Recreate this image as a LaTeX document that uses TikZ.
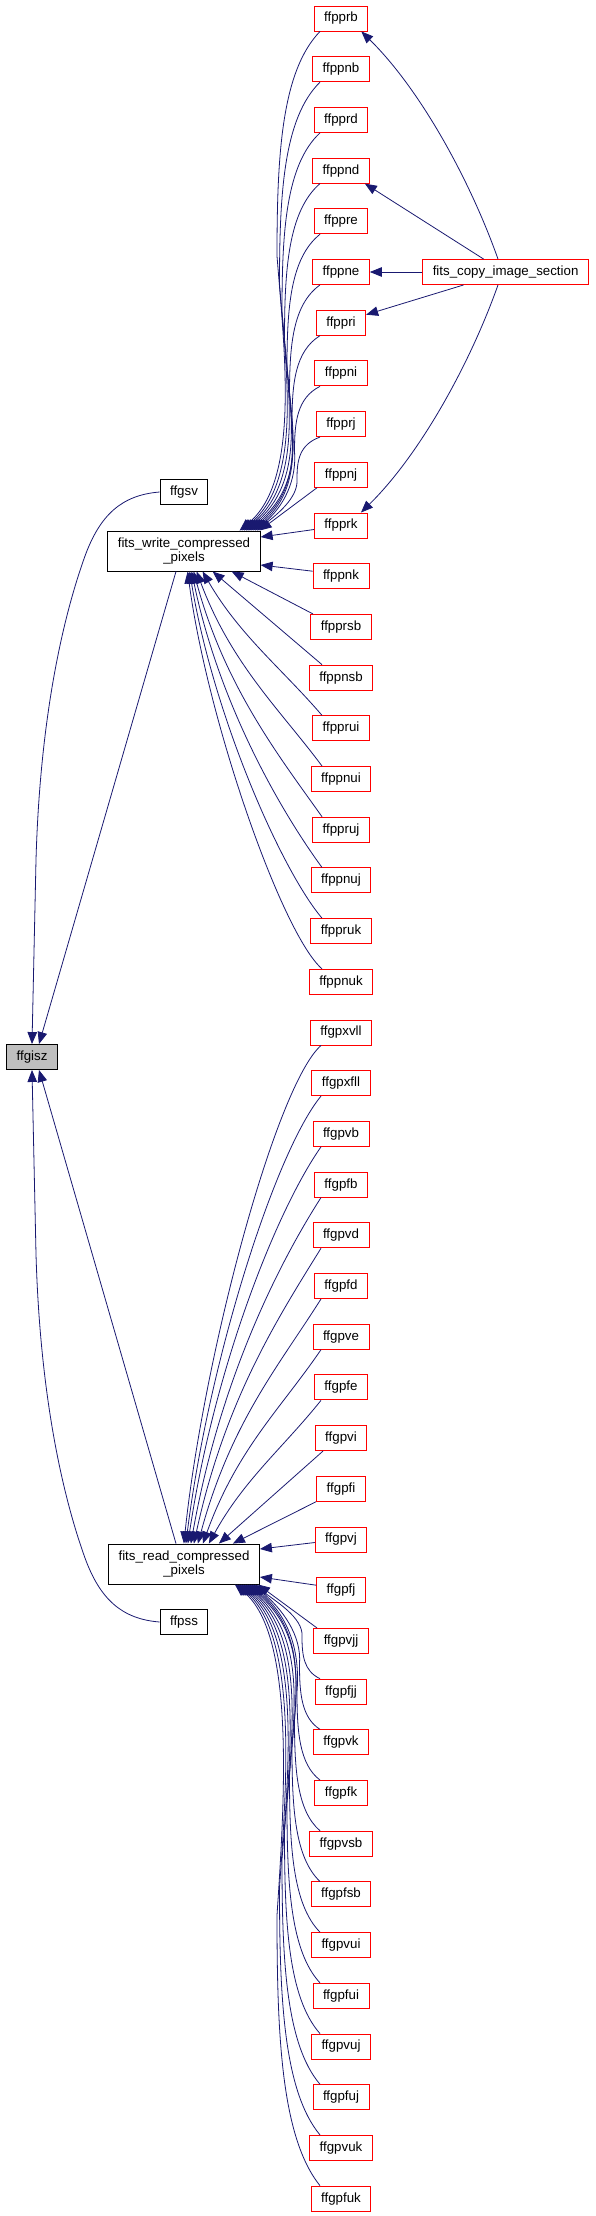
\documentclass[tikz,border=0pt]{standalone}
\usepackage{fontspec}
\setmainfont{Liberation Sans}
\usepackage{tikz}
\usetikzlibrary{arrows.meta}
\definecolor{edgeblue}{RGB}{25,25,112}
\definecolor{boxgray}{RGB}{191,191,191}
\definecolor{boxred}{RGB}{255,0,0}

\begin{document}
\begin{tikzpicture}[
    x=1pt, y=-1pt,
    func/.style={rectangle, draw=black, fill=white, line width=0.9pt, align=center, inner xsep=10pt, inner ysep=2pt, minimum height=25pt, font=\fontsize{13.3pt}{13.6pt}\selectfont},
    callee/.style={func, draw=boxred},
    focus/.style={func, fill=boxgray},
    arrow/.style={-{Triangle[length=12pt, width=9.5pt]}, draw=edgeblue, line width=0.8pt}
]
\useasboundingbox (0,0) rectangle (596,2216);

% left part
\node[focus] (ffgisz) at (32,1057) {ffgisz};
\node[func] (ffgsv) at (184,492) {ffgsv};
\node[func, minimum height=40pt] (writecomp) at (184,551) {fits\_write\_compressed\\\_pixels};
\node[func, minimum height=40pt] (readcomp) at (184,1564) {fits\_read\_compressed\\\_pixels};
\node[func] (ffpss) at (184,1622) {ffpss};
\node[callee] (copysec) at (505.6,272) {fits\_copy\_image\_section};

% write routines
\node[callee] (ffpprb) at (341,18.5) {ffpprb};
\node[callee] (ffppnb) at (341,69.2) {ffppnb};
\node[callee] (ffpprd) at (341,119.9) {ffpprd};
\node[callee] (ffppnd) at (341,170.6) {ffppnd};
\node[callee] (ffppre) at (341,221.3) {ffppre};
\node[callee] (ffppne) at (341,272.0) {ffppne};
\node[callee] (ffppri) at (341,322.7) {ffppri};
\node[callee] (ffppni) at (341,373.4) {ffppni};
\node[callee] (ffpprj) at (341,424.1) {ffpprj};
\node[callee] (ffppnj) at (341,474.8) {ffppnj};
\node[callee] (ffpprk) at (341,525.5) {ffpprk};
\node[callee] (ffppnk) at (341,576.2) {ffppnk};
\node[callee] (ffpprsb) at (341,626.9) {ffpprsb};
\node[callee] (ffppnsb) at (341,677.6) {ffppnsb};
\node[callee] (ffpprui) at (341,728.3) {ffpprui};
\node[callee] (ffppnui) at (341,779.0) {ffppnui};
\node[callee] (ffppruj) at (341,829.7) {ffppruj};
\node[callee] (ffppnuj) at (341,880.4) {ffppnuj};
\node[callee] (ffppruk) at (341,931.1) {ffppruk};
\node[callee] (ffppnuk) at (341,981.8) {ffppnuk};

% read routines
\node[callee] (ffgpxvll) at (341,1032.5) {ffgpxvll};
\node[callee] (ffgpxfll) at (341,1083.2) {ffgpxfll};
\node[callee] (ffgpvb) at (341,1133.9) {ffgpvb};
\node[callee] (ffgpfb) at (341,1184.6) {ffgpfb};
\node[callee] (ffgpvd) at (341,1235.3) {ffgpvd};
\node[callee] (ffgpfd) at (341,1286.0) {ffgpfd};
\node[callee] (ffgpve) at (341,1336.7) {ffgpve};
\node[callee] (ffgpfe) at (341,1387.4) {ffgpfe};
\node[callee] (ffgpvi) at (341,1438.1) {ffgpvi};
\node[callee] (ffgpfi) at (341,1488.8) {ffgpfi};
\node[callee] (ffgpvj) at (341,1539.5) {ffgpvj};
\node[callee] (ffgpfj) at (341,1590.2) {ffgpfj};
\node[callee] (ffgpvjj) at (341,1640.9) {ffgpvjj};
\node[callee] (ffgpfjj) at (341,1691.6) {ffgpfjj};
\node[callee] (ffgpvk) at (341,1742.3) {ffgpvk};
\node[callee] (ffgpfk) at (341,1793.0) {ffgpfk};
\node[callee] (ffgpvsb) at (341,1843.7) {ffgpvsb};
\node[callee] (ffgpfsb) at (341,1894.4) {ffgpfsb};
\node[callee] (ffgpvui) at (341,1945.1) {ffgpvui};
\node[callee] (ffgpfui) at (341,1995.8) {ffgpfui};
\node[callee] (ffgpvuj) at (341,2046.5) {ffgpvuj};
\node[callee] (ffgpfuj) at (341,2097.2) {ffgpfuj};
\node[callee] (ffgpvuk) at (341,2147.9) {ffgpvuk};
\node[callee] (ffgpfuk) at (341,2198.6) {ffgpfuk};

% callers of ffgisz
\draw[arrow] (ffgsv.west) .. controls +(-38,3) and +(15,-41) .. (85,556) .. controls +(-23,64) and +(4,-140) .. (36,860) -- (ffgisz.north);
\draw[arrow] ([xshift=-8pt]writecomp.south) -- ([xshift=7pt]ffgisz.north);
\draw[arrow] ([xshift=-8pt]readcomp.north) -- ([xshift=7pt]ffgisz.south);
\draw[arrow] (ffpss.west) .. controls +(-38,-3) and +(15,41) .. (85,1558) .. controls +(-23,-64) and +(4,140) .. (36,1254) -- (ffgisz.south);

% fits_copy_image_section
\draw[arrow] ([xshift=-7.6pt]copysec.north) .. controls +(-28,-79) and +(59,58) .. ([xshift=-7pt]ffpprb.south east);
\draw[arrow] ([xshift=-22pt]copysec.north) -- ([xshift=-5pt]ffppnd.south east);
\draw[arrow] (copysec.west) -- (ffppne.east);
\draw[arrow] ([xshift=-42pt]copysec.south) -- ([yshift=8pt]ffppri.east);
\draw[arrow] ([xshift=-7.6pt]copysec.south) .. controls +(-28,79) and +(59,-58) .. ([xshift=-7pt]ffpprk.north east);

% into fits_write_compressed_pixels
\draw[arrow] ([xshift=-21pt]ffpprb.south) .. controls +(-38.7,40) and +(0,-100) .. (277,256) .. controls +(8,100) and +(60,-50) .. ([xshift=-21pt]writecomp.north east);
\draw[arrow] ([xshift=-21pt]ffppnb.south) .. controls +(-36.5,35.9) and +(0,-89.9) .. (279.5,283.9) .. controls +(7.2,89.9) and +(60,-50) .. ([xshift=-18.8pt]writecomp.north east);
\draw[arrow] ([xshift=-21pt]ffpprd.south) .. controls +(-34.2,31.9) and +(0,-79.7) .. (282,311.8) .. controls +(6.4,79.7) and +(60,-50) .. ([xshift=-16.6pt]writecomp.north east);
\draw[arrow] ([xshift=-21pt]ffppnd.south) .. controls +(-32,27.8) and +(0,-69.6) .. (284.5,339.7) .. controls +(5.6,69.6) and +(60,-50) .. ([xshift=-14.4pt]writecomp.north east);
\draw[arrow] ([xshift=-21pt]ffppre.south) .. controls +(-29.7,23.8) and +(0,-59.4) .. (287,367.5) .. controls +(4.8,59.4) and +(59,-49) .. ([xshift=-12.2pt]writecomp.north east);
\draw[arrow] ([xshift=-21pt]ffppne.south) .. controls +(-27.5,19.7) and +(0,-49.3) .. (289.5,395.4) .. controls +(3.9,49.3) and +(49.3,-41.1) .. ([xshift=-10pt]writecomp.north east);
\draw[arrow] ([xshift=-21pt]ffppri.south) .. controls +(-25.2,15.7) and +(0,-39.2) .. (292,423.3) .. controls +(3.1,39.2) and +(39.2,-32.6) .. ([xshift=-7.8pt]writecomp.north east);
\draw[arrow] ([xshift=-21pt]ffppni.south) .. controls +(-23,11.6) and +(0,-29) .. (294.5,451.2) .. controls +(2.3,29) and +(29,-24.2) .. ([xshift=-5.6pt]writecomp.north east);
\draw[arrow] ([xshift=-21pt]ffpprj.south) .. controls +(-20.7,7.6) and +(0,-18.9) .. (297,479.1) .. controls +(1.5,18.9) and +(18.9,-15.7) .. ([xshift=-3.4pt]writecomp.north east);
\draw[arrow] ([xshift=-24pt]ffppnj.south) -- ([xshift=-1pt]writecomp.north east);
\draw[arrow] ([yshift=-4pt]ffpprk.west) -- ([yshift=14pt]writecomp.east);
\draw[arrow] ([yshift=5pt]ffppnk.west) -- ([yshift=-14pt]writecomp.east);
\draw[arrow] ([xshift=-28pt]ffpprsb.north) -- ([xshift=-29pt]writecomp.south east);
\draw[arrow] ([xshift=-19pt]ffppnsb.north) -- ([xshift=-48pt]writecomp.south east);
\draw[arrow] ([xshift=-19pt]ffpprui.north) .. controls +(-39.7,-46.3) and +(36.7,63.6) .. ([xshift=-58pt]writecomp.south east);
\draw[arrow] ([xshift=-19pt]ffppnui.north) .. controls +(-41.1,-55.4) and +(34.6,92.8) .. ([xshift=-64pt]writecomp.south east);
\draw[arrow] ([xshift=-19pt]ffppruj.north) .. controls +(-41.4,-58.5) and +(31.4,116) .. ([xshift=-67pt]writecomp.south east);
\draw[arrow] ([xshift=-19pt]ffppnuj.north) .. controls +(-41.1,-56.2) and +(27.7,133.2) .. ([xshift=-69pt]writecomp.south east);
\draw[arrow] ([xshift=-19pt]ffppruk.north) .. controls +(-40.6,-47.9) and +(23.8,144.5) .. ([xshift=-71pt]writecomp.south east);
\draw[arrow] ([xshift=-19pt]ffppnuk.north) .. controls +(-40,-35) and +(20,150) .. ([xshift=-73pt]writecomp.south east);

% into fits_read_compressed_pixels
\draw[arrow] ([xshift=-20pt]ffgpxvll.south) .. controls +(-45,40) and +(20,-190) .. ([xshift=-76pt]readcomp.north east);
\draw[arrow] ([xshift=-20pt]ffgpxfll.south) .. controls +(-45,54.2) and +(23.2,-184.7) .. ([xshift=-74pt]readcomp.north east);
\draw[arrow] ([xshift=-20pt]ffgpvb.south) .. controls +(-44.7,63.7) and +(26.1,-175.3) .. ([xshift=-72pt]readcomp.north east);
\draw[arrow] ([xshift=-20pt]ffgpfb.south) .. controls +(-44.2,69) and +(28.7,-161.5) .. ([xshift=-69pt]readcomp.north east);
\draw[arrow] ([xshift=-20pt]ffgpvd.south) .. controls +(-43.3,69.9) and +(31.1,-143.4) .. ([xshift=-66pt]readcomp.north east);
\draw[arrow] ([xshift=-20pt]ffgpfd.south) .. controls +(-42,66.6) and +(32.9,-121.2) .. ([xshift=-62pt]readcomp.north east);
\draw[arrow] ([xshift=-20pt]ffgpve.south) .. controls +(-40.2,59) and +(34.2,-94.5) .. ([xshift=-57pt]readcomp.north east);
\draw[arrow] ([xshift=-20pt]ffgpfe.south) .. controls +(-37.7,47.1) and +(34.9,-63.6) .. ([xshift=-51pt]readcomp.north east);
\draw[arrow] ([xshift=-18pt]ffgpvi.south) -- ([xshift=-41pt]readcomp.north east);
\draw[arrow] ([xshift=-25pt]ffgpfi.south) -- ([xshift=-27pt]readcomp.north east);
\draw[arrow] ([yshift=-3pt]ffgpvj.west) -- ([yshift=15pt]readcomp.east);
\draw[arrow] ([yshift=5pt]ffgpfj.west) -- ([yshift=-13pt]readcomp.east);
\draw[arrow] ([xshift=-24pt]ffgpvjj.north) -- ([xshift=-2pt]readcomp.south east);
\draw[arrow] ([xshift=-21pt]ffgpfjj.north) .. controls +(-16.2,-7.6) and +(0,19) .. (302,1636.3) .. controls +(1.5,-19) and +(19,15.9) .. ([xshift=-5pt]readcomp.south east);
\draw[arrow] ([xshift=-21pt]ffgpvk.north) .. controls +(-18.5,-11.7) and +(0,29.2) .. (299.5,1664.2) .. controls +(2.3,-29.2) and +(29.2,24.3) .. ([xshift=-7pt]readcomp.south east);
\draw[arrow] ([xshift=-21pt]ffgpfk.north) .. controls +(-20.7,-15.7) and +(0,39.3) .. (297,1692.1) .. controls +(3.1,-39.3) and +(39.3,32.8) .. ([xshift=-9pt]readcomp.south east);
\draw[arrow] ([xshift=-21pt]ffgpvsb.north) .. controls +(-23,-19.8) and +(0,49.4) .. (294.5,1720) .. controls +(4,-49.4) and +(49.4,41.2) .. ([xshift=-11pt]readcomp.south east);
\draw[arrow] ([xshift=-21pt]ffgpfsb.north) .. controls +(-25.2,-23.8) and +(0,59.6) .. (292,1747.8) .. controls +(4.8,-59.6) and +(59.6,49.7) .. ([xshift=-13pt]readcomp.south east);
\draw[arrow] ([xshift=-21pt]ffgpvui.north) .. controls +(-27.5,-27.9) and +(0,69.7) .. (289.5,1775.7) .. controls +(5.6,-69.7) and +(60,50) .. ([xshift=-15pt]readcomp.south east);
\draw[arrow] ([xshift=-21pt]ffgpfui.north) .. controls +(-29.7,-31.9) and +(0,79.9) .. (287,1803.6) .. controls +(6.4,-79.9) and +(60,50) .. ([xshift=-17pt]readcomp.south east);
\draw[arrow] ([xshift=-21pt]ffgpvuj.north) .. controls +(-32,-36) and +(0,90) .. (284.5,1831.5) .. controls +(7.2,-90) and +(60,50) .. ([xshift=-19pt]readcomp.south east);
\draw[arrow] ([xshift=-21pt]ffgpfuj.north) .. controls +(-34.2,-40.1) and +(0,100.1) .. (282,1859.4) .. controls +(8,-100.1) and +(60,50) .. ([xshift=-21pt]readcomp.south east);
\draw[arrow] ([xshift=-21pt]ffgpvuk.north) .. controls +(-36.5,-44.1) and +(0,110.3) .. (279.5,1887.3) .. controls +(8,-110.3) and +(60,50) .. ([xshift=-23pt]readcomp.south east);
\draw[arrow] ([xshift=-21pt]ffgpfuk.north) .. controls +(-38.7,-48.2) and +(0,120.4) .. (277,1915.2) .. controls +(8,-120.4) and +(60,50) .. ([xshift=-25pt]readcomp.south east);
\end{tikzpicture}
\end{document}
